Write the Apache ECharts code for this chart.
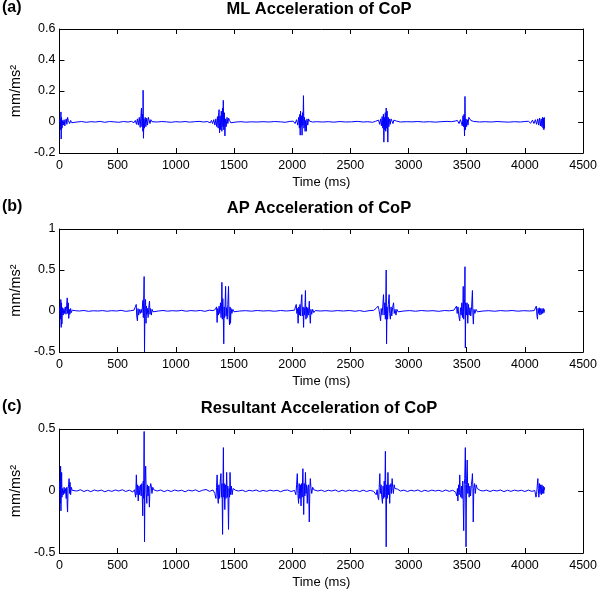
<!DOCTYPE html>
<html>
<head>
<meta charset="utf-8">
<script src="https://cdn.jsdelivr.net/npm/echarts@6/dist/echarts.min.js"></script>
<style>html,body{margin:0;padding:0;background:#fff}#c{width:600px;height:590px}</style>
</head>
<body>
<div id="c"></div>
<script>
// ---- Data (time in ms, acceleration in mm/ms^2) ----
const panelTitles = ['ML Acceleration of CoP', 'AP Acceleration of CoP', 'Resultant Acceleration of CoP'];
const panelLetters = ['(a)', '(b)', '(c)'];
const xAxisName = 'Time (ms)';
const yAxisName = 'mm/ms\u00B2';
const xTicks = [0, 4500, 500];
const yTicksML = [-0.2, 0.6, 0.2];
const yTicksAP = [-0.5, 1, 0.5];
const yTicksRes = [-0.5, 0.5, 0.5];

const mlPoints = [
[0,0],[6,0.02],[10,-0.05],[13,0.065],[15,-0.11],[18,0.03],[22,-0.04],[28,0.01],[34,-0.02],[40,0.015],[46,-0.025],[52,0.005],[58,0.02],[64,-0.015],[70,0.03],[76,0.01],[82,0.02],[88,-0.01],[96,0.01],[106,-0.005],[118,0.004],
[150,0],[190,0.003],[230,-0.002],[270,0.002],[310,0],[350,0.004],[390,-0.002],[430,0.003],[470,0.001],[510,-0.002],[550,0.003],[590,0],[620,0.004],
[640,-0.005],[652,0.01],[662,-0.015],[670,0.02],[678,-0.02],[686,0.03],[694,-0.035],[700,0.04],[705,0.09],[709,-0.03],[713,0.05],[717,-0.06],[719,0.205],[722,-0.105],[726,0.02],[731,-0.04],[737,0.03],[743,-0.03],[750,0.025],[757,-0.02],[764,0.03],[771,0.02],[778,-0.01],[786,0.015],[795,0.002],[808,0.005],
[840,0],[880,0.003],[920,0.001],[960,-0.002],[1000,0.002],[1040,0],[1080,0.003],[1120,-0.001],[1160,0.002],[1200,0.004],[1240,0],[1270,0.003],
[1296,-0.005],[1306,0.01],[1316,-0.01],[1326,0.015],[1336,-0.02],[1344,0.02],[1352,-0.03],[1358,0.035],[1364,-0.04],[1369,0.06],[1372,0.08],[1376,-0.07],[1381,0.04],[1386,-0.05],[1391,0.07],[1396,-0.06],[1401,0.09],[1405,-0.03],[1408,0.14],[1412,-0.05],[1417,0.06],[1422,-0.09],[1427,0.02],[1433,-0.03],[1440,0.03],[1447,-0.01],[1454,0.025],[1462,0.01],[1472,-0.005],[1485,0.004],
[1520,0],[1560,0.002],[1600,-0.001],[1650,0.001],[1700,0],[1750,0.002],[1800,0],[1850,0.003],[1900,0.001],[1940,-0.002],[1980,0.004],
[2010,0.005],[2025,-0.01],[2038,0.015],[2048,-0.02],[2056,0.03],[2062,-0.04],[2066,0.05],[2069,-0.085],[2072,0.07],[2076,-0.03],[2080,0.04],[2085,-0.085],[2089,0.06],[2093,-0.02],[2097,0.17],[2101,-0.04],[2106,0.03],[2111,-0.06],[2116,0.01],[2121,-0.06],[2127,0.02],[2134,-0.02],[2141,0.02],[2150,0.005],[2162,0.008],[2175,0],
[2210,0.002],[2260,0],[2310,0.002],[2360,-0.001],[2410,0.003],[2460,0],[2510,0.001],[2560,0.004],[2610,0],[2650,0.002],[2690,-0.002],
[2715,0.004],[2730,-0.008],[2742,0.012],[2752,-0.015],[2760,0.02],[2767,-0.025],[2773,0.035],[2779,-0.04],[2784,0.05],[2788,-0.13],[2792,0.03],[2796,-0.05],[2800,0.06],[2804,-0.06],[2808,0.09],[2812,-0.04],[2816,0.07],[2819,-0.03],[2822,-0.13],[2826,0.03],[2831,-0.03],[2837,0.02],[2843,-0.015],[2850,0.02],[2858,0.025],[2866,-0.01],[2874,0.012],[2884,0.004],[2896,0.006],
[2930,0],[2980,0.002],[3030,0.001],[3080,0.003],[3130,0],[3180,0.002],[3230,-0.001],[3280,0.002],[3330,0.004],[3370,0.002],
[3400,0.006],[3420,0.01],[3434,-0.01],[3446,0.015],[3455,0.02],[3462,-0.025],[3468,0.04],[3473,-0.03],[3477,0.05],[3481,-0.09],[3485,0.165],[3489,-0.05],[3494,0.02],[3499,-0.03],[3505,0.015],[3511,-0.02],[3518,0.03],[3526,0.02],[3535,0.01],[3545,0.015],[3558,0.004],[3570,0.002],
[3610,0],[3660,0.002],[3710,0],[3760,0.003],[3810,0.001],[3860,-0.001],[3910,0.002],[3960,0],[4000,0.003],
[4030,0.005],[4050,-0.008],[4065,0.012],[4078,-0.01],[4090,0.015],[4100,-0.015],[4110,0.02],[4118,-0.02],[4126,0.025],[4133,-0.025],[4140,0.02],[4146,-0.03],[4151,0.03],[4156,-0.04],[4160,0.025],[4163,-0.05],[4166,0.03],[4168,-0.04]
];

const apPoints = [
[0,0],[4,0.05],[8,-0.1],[12,0.14],[15,-0.2],[18,0.1],[21,-0.16],[26,0.04],[32,-0.05],[38,0.03],[44,-0.03],[50,0.05],[56,-0.04],[62,0.07],[67,0.16],[71,-0.03],[76,0.1],[80,-0.09],[85,0.02],[90,-0.04],[96,0.03],[102,-0.02],[110,0.01],[120,-0.005],[135,0.004],
[170,0],[210,0.006],[250,-0.004],[290,0.003],[330,0],[370,0.005],[410,-0.003],[450,0.004],[490,0],[530,0.008],[570,-0.004],[610,0.003],[640,0.01],
[652,0.05],[660,0.08],[664,-0.06],[670,-0.12],[675,0.03],[681,-0.05],[688,0.02],[695,-0.03],[702,0.02],[708,-0.02],[713,0.05],[717,0.13],[721,-0.08],[725,0.2],[728,0.42],[731,-0.5],[735,0.05],[740,0.14],[744,-0.15],[748,0.06],[752,-0.04],[757,0.03],[762,-0.08],[768,0.05],[774,0.12],[778,-0.04],[783,0.03],[790,-0.05],[796,0.02],[804,-0.01],[815,0.005],
[850,0],[890,0.006],[930,-0.002],[970,0.004],[1010,0],[1050,0.008],[1090,-0.003],[1130,0.005],[1170,0],[1210,0.007],[1250,-0.004],[1290,0.01],[1320,0.004],
[1340,0.02],[1350,0.05],[1355,-0.14],[1360,0.03],[1366,-0.05],[1372,0.06],[1378,-0.03],[1384,0.1],[1389,-0.08],[1393,0.05],[1396,0.35],[1400,-0.1],[1404,0.15],[1408,-0.05],[1412,-0.4],[1416,0.05],[1420,-0.08],[1424,0.1],[1428,0.3],[1432,-0.06],[1437,0.04],[1442,-0.1],[1447,0.08],[1453,0.3],[1457,-0.05],[1462,-0.17],[1466,0.05],[1470,-0.15],[1475,0.03],[1482,-0.03],[1490,0.02],[1500,-0.01],[1512,0.005],
[1550,0],[1600,0.004],[1650,-0.002],[1700,0.006],[1750,0],[1800,0.004],[1850,-0.003],[1900,0.006],[1950,0],[1990,0.005],[2020,0.01],
[2035,0.08],[2040,-0.03],[2046,0.03],[2051,-0.15],[2056,0.05],[2062,-0.05],[2067,0.08],[2072,-0.06],[2077,0.1],[2083,0.2],[2087,-0.06],[2093,0.05],[2098,-0.2],[2102,0.04],[2108,-0.05],[2114,0.25],[2118,-0.1],[2123,0.05],[2128,-0.08],[2134,0.04],[2140,-0.05],[2147,0.12],[2151,-0.03],[2156,-0.15],[2161,0.02],[2168,-0.04],[2176,0.02],[2186,-0.02],[2198,0.005],
[2240,0],[2290,0.004],[2340,-0.002],[2390,0.005],[2440,0],[2490,0.006],[2540,-0.003],[2580,0.005],[2620,-0.006],[2660,0.004],[2700,0.008],
[2720,0.03],[2737,0.06],[2745,0.02],[2752,-0.04],[2760,-0.12],[2765,0.03],[2772,-0.05],[2778,0.05],[2785,0.2],[2790,-0.05],[2796,0.1],[2801,-0.1],[2805,0.15],[2808,0.5],[2811,-0.4],[2815,0.05],[2820,-0.1],[2826,0.08],[2833,0.2],[2838,-0.03],[2844,-0.1],[2850,0.05],[2856,-0.06],[2863,0.04],[2871,0.1],[2877,-0.03],[2884,0.02],[2892,-0.05],[2900,0.02],[2910,-0.01],[2925,0.005],
[2960,0],[3010,0.005],[3060,-0.003],[3110,0.006],[3160,0],[3210,0.004],[3260,-0.004],[3310,0.006],[3350,0.002],[3390,0.01],
[3405,0.03],[3412,0.06],[3418,-0.03],[3425,0.05],[3432,-0.06],[3440,-0.12],[3446,0.04],[3452,-0.05],[3458,0.1],[3463,-0.08],[3467,0.06],[3470,0.3],[3474,-0.1],[3478,0.05],[3482,0.15],[3485,0.54],[3488,-0.45],[3492,0.1],[3497,-0.05],[3503,0.1],[3509,-0.15],[3515,0.08],[3521,-0.05],[3528,0.04],[3535,-0.06],[3542,0.05],[3549,0.25],[3553,-0.05],[3557,-0.16],[3562,0.02],[3570,-0.03],[3580,0.02],[3592,-0.01],[3605,0.005],
[3640,0],[3690,0.004],[3740,-0.003],[3790,0.005],[3840,0],[3890,0.006],[3940,-0.002],[3990,0.004],[4040,0],[4080,0.005],
[4092,0.02],[4098,0.06],[4103,-0.05],[4108,-0.1],[4113,0.03],[4118,-0.03],[4123,0.04],[4129,-0.05],[4135,0.03],[4141,-0.04],[4147,0.03],[4153,-0.03],[4159,0.03],[4164,-0.02],[4168,0.02]
];

const resPoints = [
[0,0],[4,0.08],[8,-0.1],[10,0.2],[13,-0.16],[16,0.05],[19,0.15],[22,-0.05],[27,0.02],[33,-0.03],[40,0.03],[46,-0.02],[52,0.02],[58,-0.06],[63,0.03],[67,-0.12],[70,-0.17],[74,0.02],[79,0.05],[83,0.1],[87,-0.02],[91,0.07],[96,-0.03],[102,0.03],[110,0.005],[122,0.01],
[150,0],[180,0.01],[210,-0.004],[240,0.006],[270,-0.005],[300,0.008],[330,0],[360,0.007],[390,-0.006],[420,0.005],[450,-0.003],[480,0.008],[510,0],[540,0.01],[570,-0.004],[600,0.007],[630,-0.008],
[645,0.01],[655,-0.05],[661,0.13],[666,-0.03],[672,0.05],[677,-0.08],[683,0.04],[689,-0.03],[696,0.05],[702,-0.04],[708,0.06],[712,-0.05],[716,-0.2],[720,0.08],[724,-0.06],[728,0.48],[731,-0.41],[735,0.05],[741,0.2],[746,-0.02],[751,-0.1],[756,0.05],[761,-0.04],[767,0.04],[773,-0.13],[778,0.02],[784,0.06],[789,0.04],[795,-0.02],[802,0.03],[810,0.01],[822,0.015],
[840,0],[870,0.008],[900,-0.005],[930,0.006],[960,-0.004],[990,0.008],[1020,0],[1050,0.006],[1080,-0.006],[1110,0.007],[1140,0],[1170,0.009],[1200,-0.005],[1230,0.006],[1260,0.012],[1290,-0.003],[1320,0.008],
[1335,-0.02],[1345,-0.06],[1350,0.03],[1355,0.13],[1360,-0.04],[1365,-0.1],[1370,0.05],[1376,-0.06],[1382,0.08],[1388,0.14],[1392,-0.05],[1397,0.06],[1402,-0.35],[1406,0.1],[1409,0.35],[1412,-0.05],[1416,0.06],[1421,-0.15],[1426,0.05],[1431,-0.06],[1437,0.15],[1442,-0.05],[1447,0.04],[1453,-0.31],[1458,0.02],[1462,-0.05],[1466,0.15],[1471,-0.03],[1477,0.04],[1484,-0.03],[1492,0.02],[1502,0.01],[1515,0.005],
[1540,0],[1570,0.007],[1600,-0.005],[1630,0.006],[1660,0],[1690,0.008],[1720,-0.004],[1750,0.005],[1780,-0.003],[1810,0.007],[1840,0],[1870,0.006],[1900,-0.006],[1930,0.005],[1960,0.008],[1990,-0.004],[2020,0.005],
[2032,-0.03],[2038,0.05],[2044,0.14],[2049,-0.02],[2055,-0.1],[2060,0.06],[2066,-0.06],[2071,0.05],[2076,-0.12],[2081,0.06],[2086,-0.05],[2092,0.18],[2096,-0.05],[2099,-0.19],[2104,0.06],[2109,-0.04],[2114,0.15],[2119,-0.02],[2124,0.05],[2130,-0.1],[2135,0.03],[2141,0.05],[2147,-0.25],[2152,0.02],[2156,0.1],[2161,0.03],[2168,-0.02],[2176,0.03],[2186,0.01],[2198,0.015],
[2220,0],[2250,0.007],[2280,-0.004],[2310,0.006],[2340,0],[2370,0.008],[2400,-0.005],[2430,0.006],[2460,-0.003],[2490,0.007],[2520,0],[2550,0.006],[2580,-0.005],[2610,0.007],[2640,-0.004],[2670,0.005],[2700,-0.003],
[2715,-0.01],[2722,-0.03],[2730,0.01],[2737,-0.05],[2743,-0.07],[2748,0.03],[2753,0.14],[2758,-0.02],[2764,0.05],[2770,-0.05],[2776,-0.1],[2781,0.04],[2786,-0.06],[2791,0.08],[2796,-0.05],[2801,0.32],[2805,-0.08],[2808,-0.45],[2812,0.05],[2817,-0.06],[2823,0.15],[2828,-0.03],[2833,0.05],[2838,-0.1],[2843,0.03],[2849,0.06],[2854,-0.02],[2859,0.1],[2864,0.03],[2870,-0.02],[2876,0.05],[2883,0.02],[2892,0.01],[2905,0.015],
[2930,0],[2960,0.007],[2990,-0.004],[3020,0.006],[3050,0],[3080,0.008],[3110,-0.005],[3140,0.006],[3170,-0.003],[3200,0.007],[3230,0],[3260,0.006],[3290,-0.004],[3320,0.008],[3350,-0.003],[3380,0.006],[3405,-0.01],
[3414,-0.04],[3420,0.02],[3424,-0.08],[3430,0.05],[3435,-0.03],[3440,0.13],[3445,-0.02],[3450,-0.05],[3455,0.04],[3460,-0.06],[3466,0.08],[3470,-0.1],[3474,-0.32],[3479,0.05],[3483,0.1],[3488,0.35],[3491,0.05],[3494,-0.45],[3498,0.05],[3504,0.25],[3509,-0.02],[3515,0.06],[3521,-0.05],[3527,0.04],[3533,-0.04],[3540,0.05],[3546,0.1],[3549,0.14],[3553,0.02],[3556,-0.25],[3561,0.03],[3567,0.06],[3574,-0.02],[3581,0.05],[3590,0.02],[3602,0.015],[3615,0.005],
[3640,0],[3670,0.007],[3700,-0.004],[3730,0.006],[3760,0],[3790,0.008],[3820,-0.005],[3850,0.006],[3880,-0.003],[3910,0.007],[3940,0],[3970,0.006],[4000,-0.004],[4030,0.007],[4060,-0.003],[4085,0.004],
[4095,-0.05],[4100,-0.03],[4106,0.04],[4111,0.1],[4115,0.02],[4120,-0.05],[4125,0.06],[4130,-0.02],[4135,0.05],[4141,-0.03],[4146,0.05],[4152,-0.02],[4157,0.04],[4162,-0.02],[4166,0.03],[4168,0.01]
];

// ---- Layout / styling ----
const FONT = '"Liberation Sans", Arial, sans-serif';
const panels = [
  {top: 29, height: 124, y: yTicksML, data: mlPoints, titleY: 9},
  {top: 229, height: 123, y: yTicksAP, data: apPoints, titleY: 208},
  {top: 429, height: 124, y: yTicksRes, data: resPoints, titleY: 408}
];
const LEFT = 50, WIDTH = 538;
const lineCol = '#000';
const plainNum = v => String(Math.round(v * 1000) / 1000);

const grid = [], xAxis = [], yAxis = [], series = [], graphic = [];
panels.forEach((p, i) => {
  grid.push({left: LEFT, top: p.top, width: WIDTH, height: p.height, containLabel: false});
  const xBase = {
    gridIndex: i, type: 'value', min: xTicks[0], max: xTicks[1], interval: xTicks[2],
    splitLine: {show: false},
    axisLine: {show: true, onZero: false, lineStyle: {color: lineCol, width: 1}},
    axisTick: {show: true, inside: true, length: 5, lineStyle: {color: lineCol}}
  };
  xAxis.push(Object.assign({}, xBase, {
    position: 'bottom',
    axisLabel: {show: true, color: '#000', fontSize: 12.5, fontFamily: FONT, margin: 6, formatter: plainNum},
    name: xAxisName, nameLocation: 'middle', nameGap: 23,
    nameTextStyle: {color: '#000', fontSize: 13, fontFamily: FONT}
  }));
  xAxis.push(Object.assign({}, xBase, {position: 'top', axisLabel: {show: false}}));
  const yBase = {
    gridIndex: i, type: 'value', min: p.y[0], max: p.y[1], interval: p.y[2],
    splitLine: {show: false},
    axisLine: {show: true, onZero: false, lineStyle: {color: lineCol, width: 1}},
    axisTick: {show: true, inside: true, length: 5, lineStyle: {color: lineCol}}
  };
  yAxis.push(Object.assign({}, yBase, {
    position: 'left',
    axisLabel: {show: true, color: '#000', fontSize: 12.5, fontFamily: FONT, margin: 4, formatter: plainNum},
    name: yAxisName, nameLocation: 'middle', nameGap: 30,
    nameTextStyle: {color: '#000', fontSize: 14.5, fontFamily: FONT}
  }));
  yAxis.push(Object.assign({}, yBase, {position: 'right', axisLabel: {show: false}}));
  series.push({
    type: 'line', xAxisIndex: i * 2, yAxisIndex: i * 2, data: p.data,
    showSymbol: false, symbol: 'none', silent: true,
    lineStyle: {color: '#0000ff', width: 1}, z: 1
  });
  graphic.push({type: 'text', left: 2, top: p.titleY - 9,
    style: {text: panelLetters[i], font: 'bold 16px ' + FONT, fill: '#000'}});
  graphic.push({type: 'text', x: LEFT + WIDTH / 2, y: p.titleY,
    style: {text: panelTitles[i], font: 'bold 16.5px ' + FONT, fill: '#000', textAlign: 'center', textVerticalAlign: 'middle'}});
});

const chart = echarts.init(document.getElementById('c'), null, {renderer: 'canvas'});
chart.setOption({animation: false, backgroundColor: '#fff', grid, xAxis, yAxis, series, graphic});
</script>
</body>
</html>
